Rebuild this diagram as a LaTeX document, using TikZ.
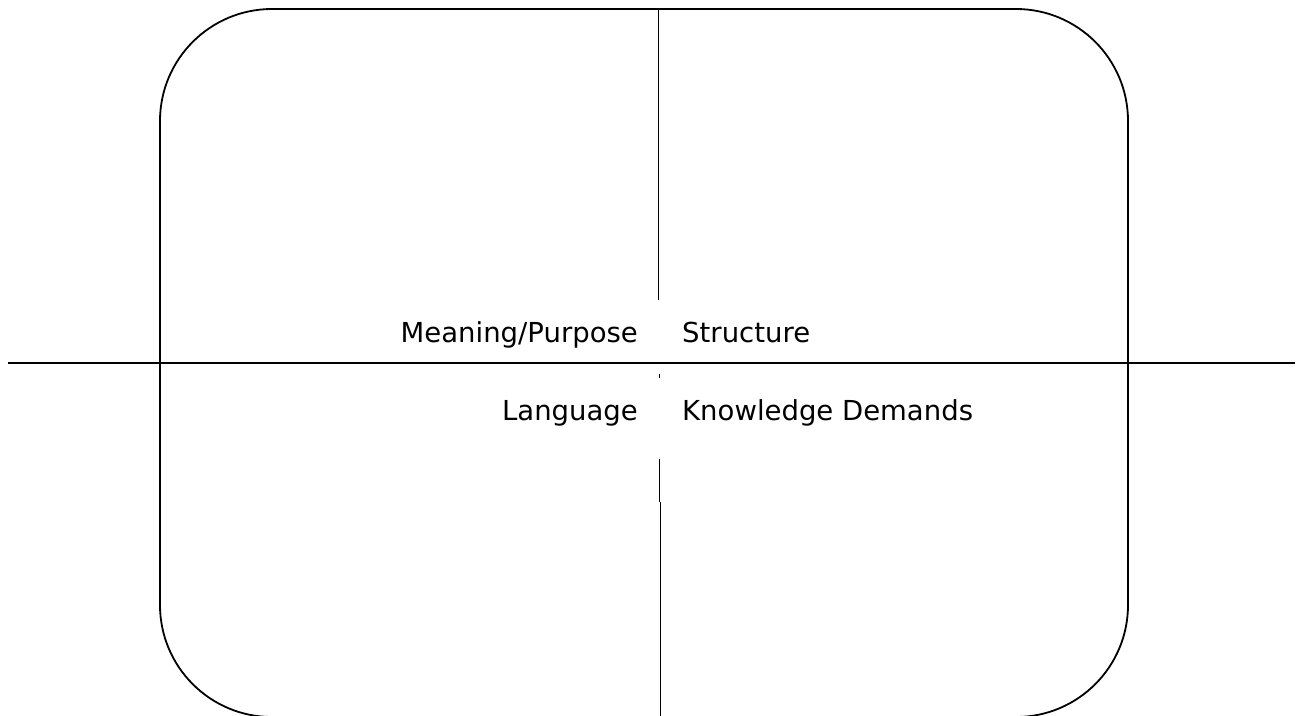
\documentclass[tikz,border=0pt]{standalone}
\usepackage{fontspec}
\setmainfont{DejaVu Sans}
\begin{document}
\begin{tikzpicture}[x=1pt,y=-1pt,
  frame/.style={draw=black,line width=1.8pt,rounded corners=112pt},
  axis/.style={draw=black,line width=1.8pt},
  lbl/.style={inner sep=0pt,font=\fontsize{27.5}{33}\selectfont}]
\useasboundingbox (0,0) rectangle (1303,715);
\path[frame] (160,9) rectangle (1128,717);
% horizontal axis
\coordinate (hl) at (8,363);
\coordinate (hr) at (1295,363);
\path[axis] (hl) -- (hr);
% vertical axis pieces
\coordinate (v1a) at (658.5,9);
\coordinate (v1b) at (658.5,300);
\coordinate (v2a) at (659.5,374);
\coordinate (v2b) at (659.5,378);
\coordinate (v3a) at (659.3,459);
\coordinate (v3b) at (659.3,502);
\coordinate (v4a) at (660.5,502);
\coordinate (v4b) at (660.5,716);
\path[axis] (v1a) -- (v1b);
\path[axis,line width=1pt] (v2a) -- (v2b);
\path[axis,line width=1.2pt] (v3a) -- (v3b);
\path[axis] (v4a) -- (v4b);
% labels
\node[lbl,anchor=base east] (mp) at (638,342) {Meaning/Purpose};
\node[lbl,anchor=base west] (st) at (682,342) {Structure};
\node[lbl,anchor=base east] (la) at (638,420) {Language};
\node[lbl,anchor=base west] (kd) at (682,420) {Knowledge Demands};
\end{tikzpicture}
\end{document}
